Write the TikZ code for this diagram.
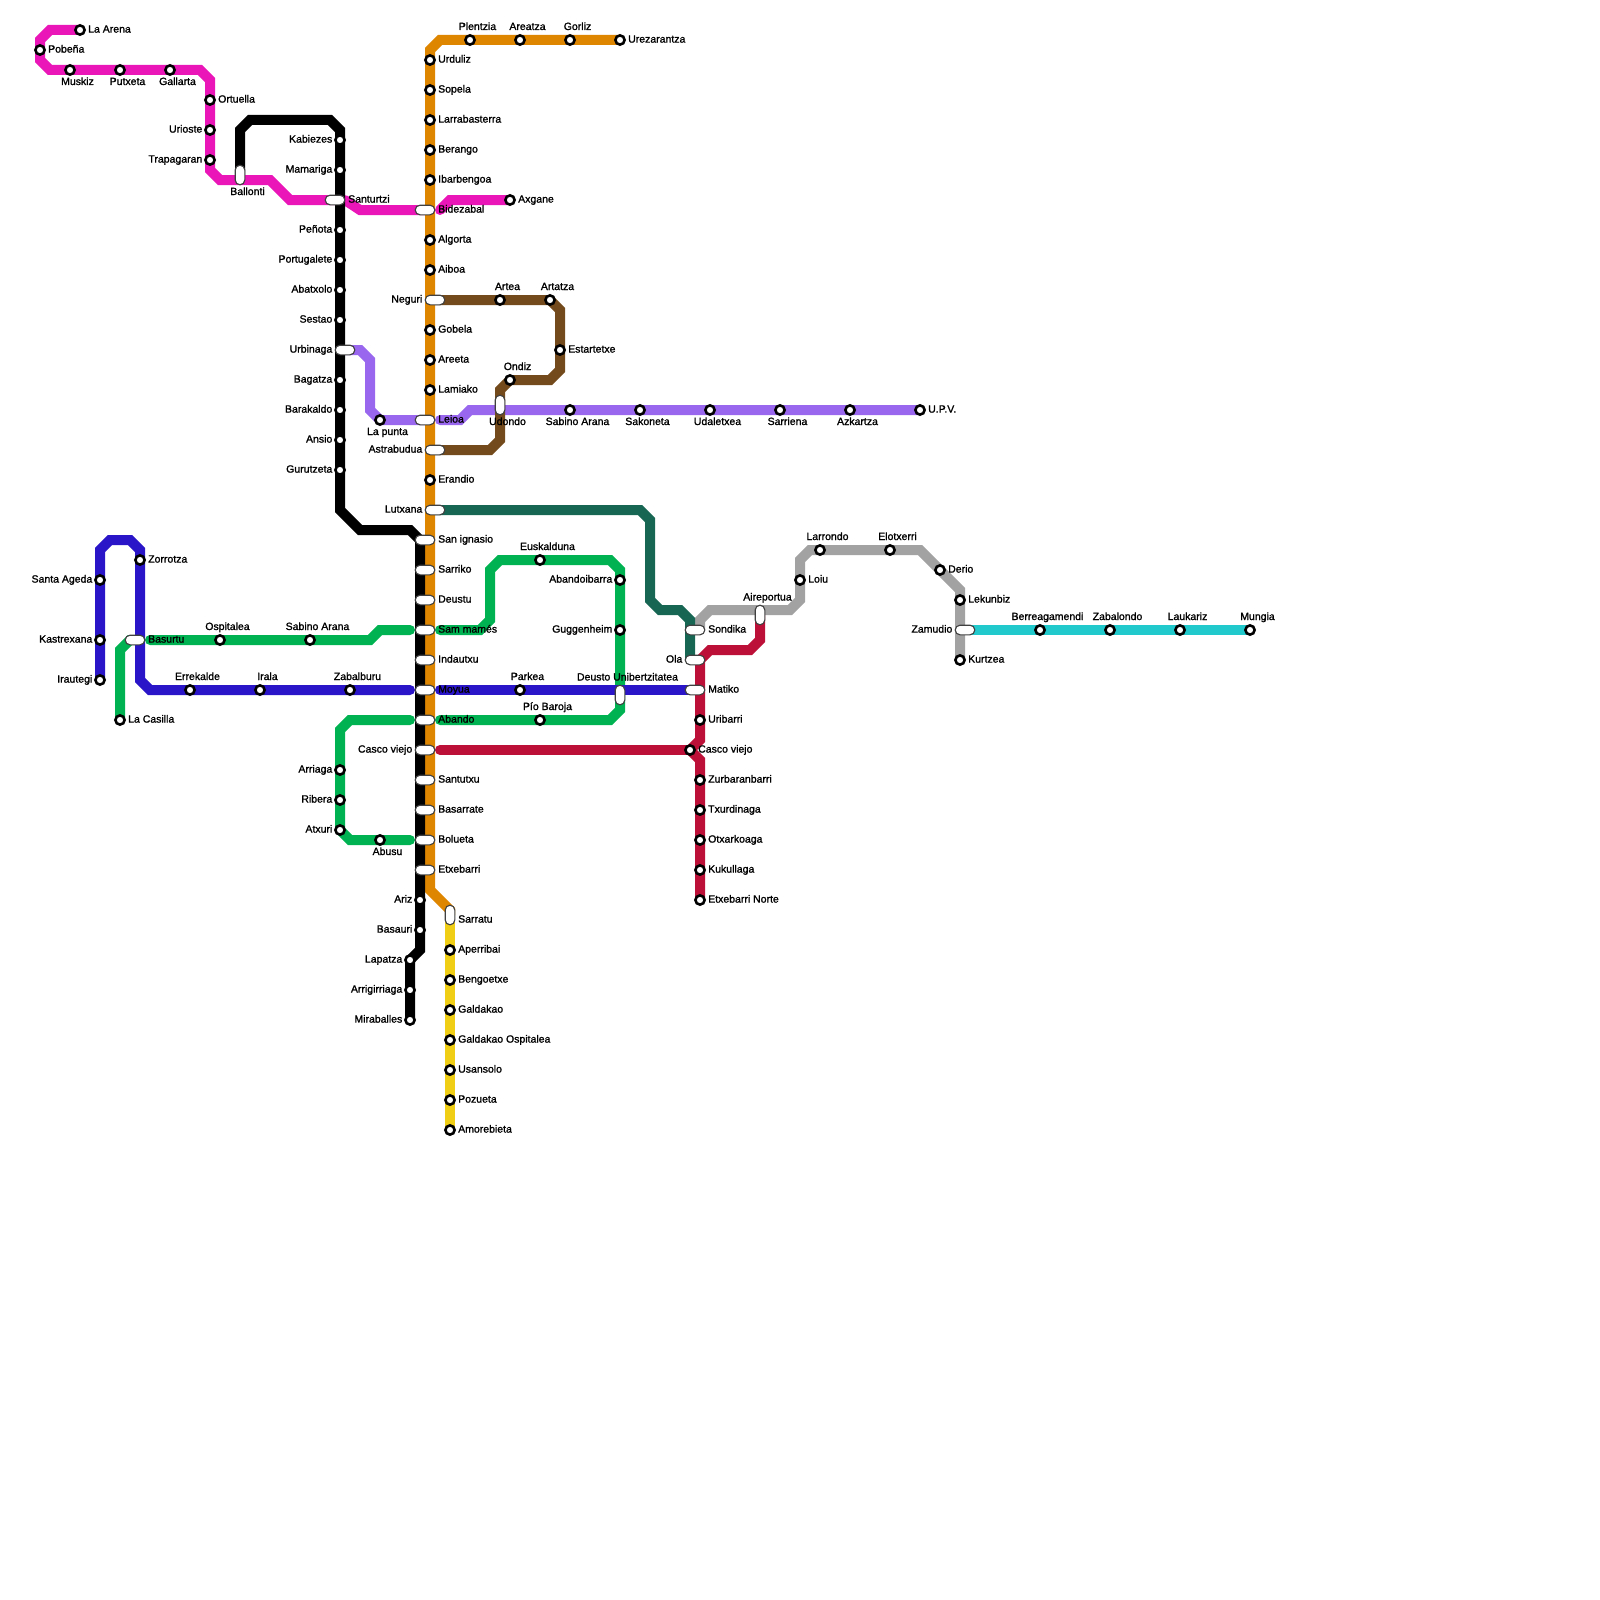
\documentclass[tikz,border=0pt]{standalone}
\usepackage{fontspec}
\setmainfont[FakeBold=1.3]{Liberation Sans}
\definecolor{lnmagenta}{HTML}{EA16B8}
\definecolor{lnorange}{HTML}{DF8600}
\definecolor{lnpurple}{HTML}{9966EE}
\definecolor{lnbrown}{HTML}{734A1B}
\definecolor{lnteal}{HTML}{176653}
\definecolor{lngreen}{HTML}{00B251}
\definecolor{lnblue}{HTML}{2A15C8}
\definecolor{lnred}{HTML}{BD1038}
\definecolor{lngrey}{HTML}{A2A2A2}
\definecolor{lncyan}{HTML}{21C9CC}
\definecolor{lnyellow}{HTML}{F0CE15}
\usetikzlibrary{backgrounds}
\tikzset{
  stn/.style={circle,draw=black,fill=white,line width=2.6pt,outer sep=0pt,inner sep=0pt,minimum size=9.2pt},
  hpill/.style={rectangle,rounded corners=4.8pt,draw=black!75,fill=white,line width=1.1pt,outer sep=0pt,inner sep=0pt,minimum width=19.6pt,minimum height=9.6pt},
  vpill/.style={hpill,minimum width=9.6pt,minimum height=19.6pt},
  lab/.style={inner sep=0pt,font=\fontsize{10.5}{12}\selectfont},
  rgt/.style={lab,anchor=base west,xshift=8pt,yshift=-2.6pt},
  lft/.style={lab,anchor=base east,xshift=-7.5pt,yshift=-2.6pt},
  abv/.style={lab,anchor=base,xshift=7.5pt,yshift=10pt},
  blw/.style={lab,anchor=base,xshift=7.5pt,yshift=-15pt},
  prgt/.style={lab,anchor=base west,xshift=13pt,yshift=-2.6pt},
  plft/.style={lab,anchor=base east,xshift=-12.5pt,yshift=-2.6pt},
  vabv/.style={lab,anchor=base,xshift=7.5pt,yshift=14.5pt},
  vblw/.style={lab,anchor=base,xshift=7.5pt,yshift=-20pt},
  vrgt/.style={lab,anchor=base west,xshift=8pt,yshift=-7.6pt},
  line/.style={line width=10pt,line cap=round,line join=miter}
}
\begin{document}
\begin{tikzpicture}[x=1pt,y=-1pt]
  \useasboundingbox (0,0) rectangle (1600,1600);
  \foreach \n/\px/\py/\kind/\side/\txt in {
    laarena/80/30/stn/rgt/La Arena, pobena/40/50/stn/rgt/Pobeña, muskiz/70/70/stn/blw/Muskiz,
    putxeta/120/70/stn/blw/Putxeta, gallarta/170/70/stn/blw/Gallarta, ortuella/210/100/stn/rgt/Ortuella,
    urioste/210/130/stn/lft/Urioste, trapagaran/210/160/stn/lft/Trapagaran, ballonti/240/175/vpill/vblw/Ballonti,
    kabiezes/340/140/stn/lft/Kabiezes, mamariga/340/170/stn/lft/Mamariga, santurtzi/335/200/hpill/prgt/Santurtzi,
    penota/340/230/stn/lft/Peñota, portugalete/340/260/stn/lft/Portugalete, abatxolo/340/290/stn/lft/Abatxolo,
    sestao/340/320/stn/lft/Sestao, urbinaga/345/350/hpill/plft/Urbinaga, bagatza/340/380/stn/lft/Bagatza,
    barakaldo/340/410/stn/lft/Barakaldo, ansio/340/440/stn/lft/Ansio, gurutzeta/340/470/stn/lft/Gurutzeta,
    ariz/420/900/stn/lft/Ariz, basauri/420/930/stn/lft/Basauri, lapatza/410/960/stn/lft/Lapatza,
    arrigirriaga/410/990/stn/lft/Arrigirriaga, miraballes/410/1020/stn/lft/Miraballes,
    plentzia/470/40/stn/abv/Plentzia, areatza/520/40/stn/abv/Areatza, gorliz/570/40/stn/abv/Gorliz,
    urezarantza/620/40/stn/rgt/Urezarantza, urduliz/430/60/stn/rgt/Urduliz, sopela/430/90/stn/rgt/Sopela,
    larrabasterra/430/120/stn/rgt/Larrabasterra, berango/430/150/stn/rgt/Berango, ibarbengoa/430/180/stn/rgt/Ibarbengoa,
    bidezabal/425/210/hpill/prgt/Bidezabal, axgane/510/200/stn/rgt/Axgane, algorta/430/240/stn/rgt/Algorta,
    aiboa/430/270/stn/rgt/Aiboa, neguri/435/300/hpill/plft/Neguri, artea/500/300/stn/abv/Artea,
    artatza/550/300/stn/abv/Artatza, estartetxe/560/350/stn/rgt/Estartetxe, ondiz/510/380/stn/abv/Ondiz,
    gobela/430/330/stn/rgt/Gobela, areeta/430/360/stn/rgt/Areeta, lamiako/430/390/stn/rgt/Lamiako,
    lapunta/380/420/stn/blw/La punta, leioa/425/420/hpill/prgt/Leioa, udondo/500/405/vpill/vblw/Udondo,
    sabinoa/570/410/stn/blw/Sabino Arana, sakoneta/640/410/stn/blw/Sakoneta, udaletxea/710/410/stn/blw/Udaletxea,
    sarriena/780/410/stn/blw/Sarriena, azkartza/850/410/stn/blw/Azkartza, upv/920/410/stn/rgt/U.P.V.,
    astrabudua/435/450/hpill/plft/Astrabudua, erandio/430/480/stn/rgt/Erandio, lutxana/435/510/hpill/plft/Lutxana,
    sanignasio/425/540/hpill/prgt/San ignasio, sarriko/425/570/hpill/prgt/Sarriko, deustu/425/600/hpill/prgt/Deustu,
    sammames/425/630/hpill/prgt/Sam mamés, indautxu/425/660/hpill/prgt/Indautxu, moyua/425/690/hpill/prgt/Moyua,
    abando/425/720/hpill/prgt/Abando, cascoa/425/750/hpill/plft/Casco viejo, santutxu/425/780/hpill/prgt/Santutxu,
    basarrate/425/810/hpill/prgt/Basarrate, bolueta/425/840/hpill/prgt/Bolueta, etxebarri/425/870/hpill/prgt/Etxebarri,
    sarratu/450/915/vpill/vrgt/Sarratu, aperribai/450/950/stn/rgt/Aperribai, bengoetxe/450/980/stn/rgt/Bengoetxe,
    galdakao/450/1010/stn/rgt/Galdakao, ospitalea/450/1040/stn/rgt/Galdakao Ospitalea, usansolo/450/1070/stn/rgt/Usansolo,
    pozueta/450/1100/stn/rgt/Pozueta, amorebieta/450/1130/stn/rgt/Amorebieta,
    santaageda/100/580/stn/lft/Santa Ageda, kastrexana/100/640/stn/lft/Kastrexana, irautegi/100/680/stn/lft/Irautegi,
    zorrotza/140/560/stn/rgt/Zorrotza, basurtu/135/640/hpill/prgt/Basurtu, lacasilla/120/720/stn/rgt/La Casilla,
    ospital/220/640/stn/abv/Ospitalea, sabinob/310/640/stn/abv/Sabino Arana, errekalde/190/690/stn/abv/Errekalde,
    irala/260/690/stn/abv/Irala, zabalburu/350/690/stn/abv/Zabalburu, arriaga/340/770/stn/lft/Arriaga,
    ribera/340/800/stn/lft/Ribera, atxuri/340/830/stn/lft/Atxuri, abusu/380/840/stn/blw/Abusu,
    euskalduna/540/560/stn/abv/Euskalduna, abandoibarra/620/580/stn/lft/Abandoibarra, guggenheim/620/630/stn/lft/Guggenheim,
    parkea/520/690/stn/abv/Parkea, deusto/620/695/vpill/vabv/Deusto Unibertzitatea, piobaroja/540/720/stn/abv/Pío Baroja,
    sondika/695/630/hpill/prgt/Sondika, ola/695/660/hpill/plft/Ola, matiko/695/690/hpill/prgt/Matiko,
    uribarri/700/720/stn/rgt/Uribarri, cascob/690/750/stn/rgt/Casco viejo, zurbaran/700/780/stn/rgt/Zurbaranbarri,
    txurdinaga/700/810/stn/rgt/Txurdinaga, otxarkoaga/700/840/stn/rgt/Otxarkoaga, kukullaga/700/870/stn/rgt/Kukullaga,
    etxnorte/700/900/stn/rgt/Etxebarri Norte, aireportua/760/615/vpill/vabv/Aireportua, loiu/800/580/stn/rgt/Loiu,
    larrondo/820/550/stn/abv/Larrondo, elotxerri/890/550/stn/abv/Elotxerri, derio/940/570/stn/rgt/Derio,
    lekunbiz/960/600/stn/rgt/Lekunbiz, zamudio/965/630/hpill/plft/Zamudio, kurtzea/960/660/stn/rgt/Kurtzea,
    berreaga/1040/630/stn/abv/Berreagamendi, zabalondo/1110/630/stn/abv/Zabalondo, laukariz/1180/630/stn/abv/Laukariz,
    mungia/1250/630/stn/abv/Mungia}
  {
    \node[\kind] (\n) at (\px,\py) {};
    \node[\side] (\n-lab) at (\n.center) {\txt};
  }
  \foreach \c/\px/\py in {bidezabalr/440/210,leioar/440/420,samr/440/630,moyuar/440/690,abandor/440/720,cascor/440/750,
    saml/410/630,moyual/410/690,abandol/410/720,boluetal/410/840,basurtur/150/640,sondikar/700/630,olal/690/660}
    \coordinate (\c) at (\px,\py);
  \begin{scope}[on background layer]
    \draw[line,lnmagenta] (laarena.center) -- (50,30) -- (40,40) -- (40,60) -- (50,70) -- (200,70) -- (210,80) -- (210,170) -- (220,180) -- (270,180) -- (290,200) -- (santurtzi.center);
    \draw[line,lnmagenta] (santurtzi.east) -- (360,210) -- (bidezabal.center);
    \draw[line,lnmagenta] (bidezabalr) -- (450,200) -- (axgane.center);
    \draw[line,lnpurple] (urbinaga.center) -- (360,350) -- (370,360) -- (370,410) -- (380,420) -- (leioa.center);
    \draw[line,lnpurple] (leioar) -- (460,420) -- (470,410) -- (upv.center);
    \draw[line,lnbrown] (neguri.center) -- (550,300) -- (560,310) -- (560,370) -- (550,380) -- (510,380) -- (500,390) -- (500,440) -- (490,450) -- (astrabudua.center);
    \draw[line,lngrey] (sondikar) -- (700,620) -- (710,610) -- (790,610) -- (800,600) -- (800,560) -- (810,550) -- (920,550) -- (960,590) -- (kurtzea.center);
    \draw[line,lnteal] (lutxana.center) -- (640,510) -- (650,520) -- (650,600) -- (660,610) -- (680,610) -- (690,620) -- (olal);
    \draw[line,lnyellow] (sarratu.center) -- (amorebieta.center);
    \draw[line,lnorange] (urezarantza.center) -- (440,40) -- (430,50) -- (430,890) -- (450,910) -- (sarratu.center);
    \draw[line,black] (ballonti.center) -- (240,130) -- (250,120) -- (330,120) -- (340,130) -- (340,510) -- (360,530) -- (410,530) -- (420,540) -- (420,950) -- (410,960) -- (miraballes.center);
    \draw[line,lngreen] (lacasilla.center) -- (120,650) -- (130,640) -- (basurtu.center);
    \draw[line,lngreen] (basurtur) -- (370,640) -- (380,630) -- (saml);
    \draw[line,lngreen] (samr) -- (480,630) -- (490,620) -- (490,570) -- (500,560) -- (610,560) -- (620,570) -- (620,710) -- (610,720) -- (abandor);
    \draw[line,lngreen] (abandol) -- (350,720) -- (340,730) -- (340,830) -- (350,840) -- (boluetal);
    \draw[line,lnblue] (irautegi.center) -- (100,550) -- (110,540) -- (130,540) -- (140,550) -- (140,680) -- (150,690) -- (moyual);
    \draw[line,lnblue] (moyuar) -- (matiko.center);
    \draw[line,lnred] (aireportua.center) -- (760,640) -- (750,650) -- (710,650) -- (700,660) -- (700,740) -- (cascob.center) -- (700,760) -- (etxnorte.center);
    \draw[line,lnred] (cascor) -- (cascob.center);
    \draw[line,lncyan] (zamudio.center) -- (mungia.center);
  \end{scope}
\end{tikzpicture}
\end{document}
